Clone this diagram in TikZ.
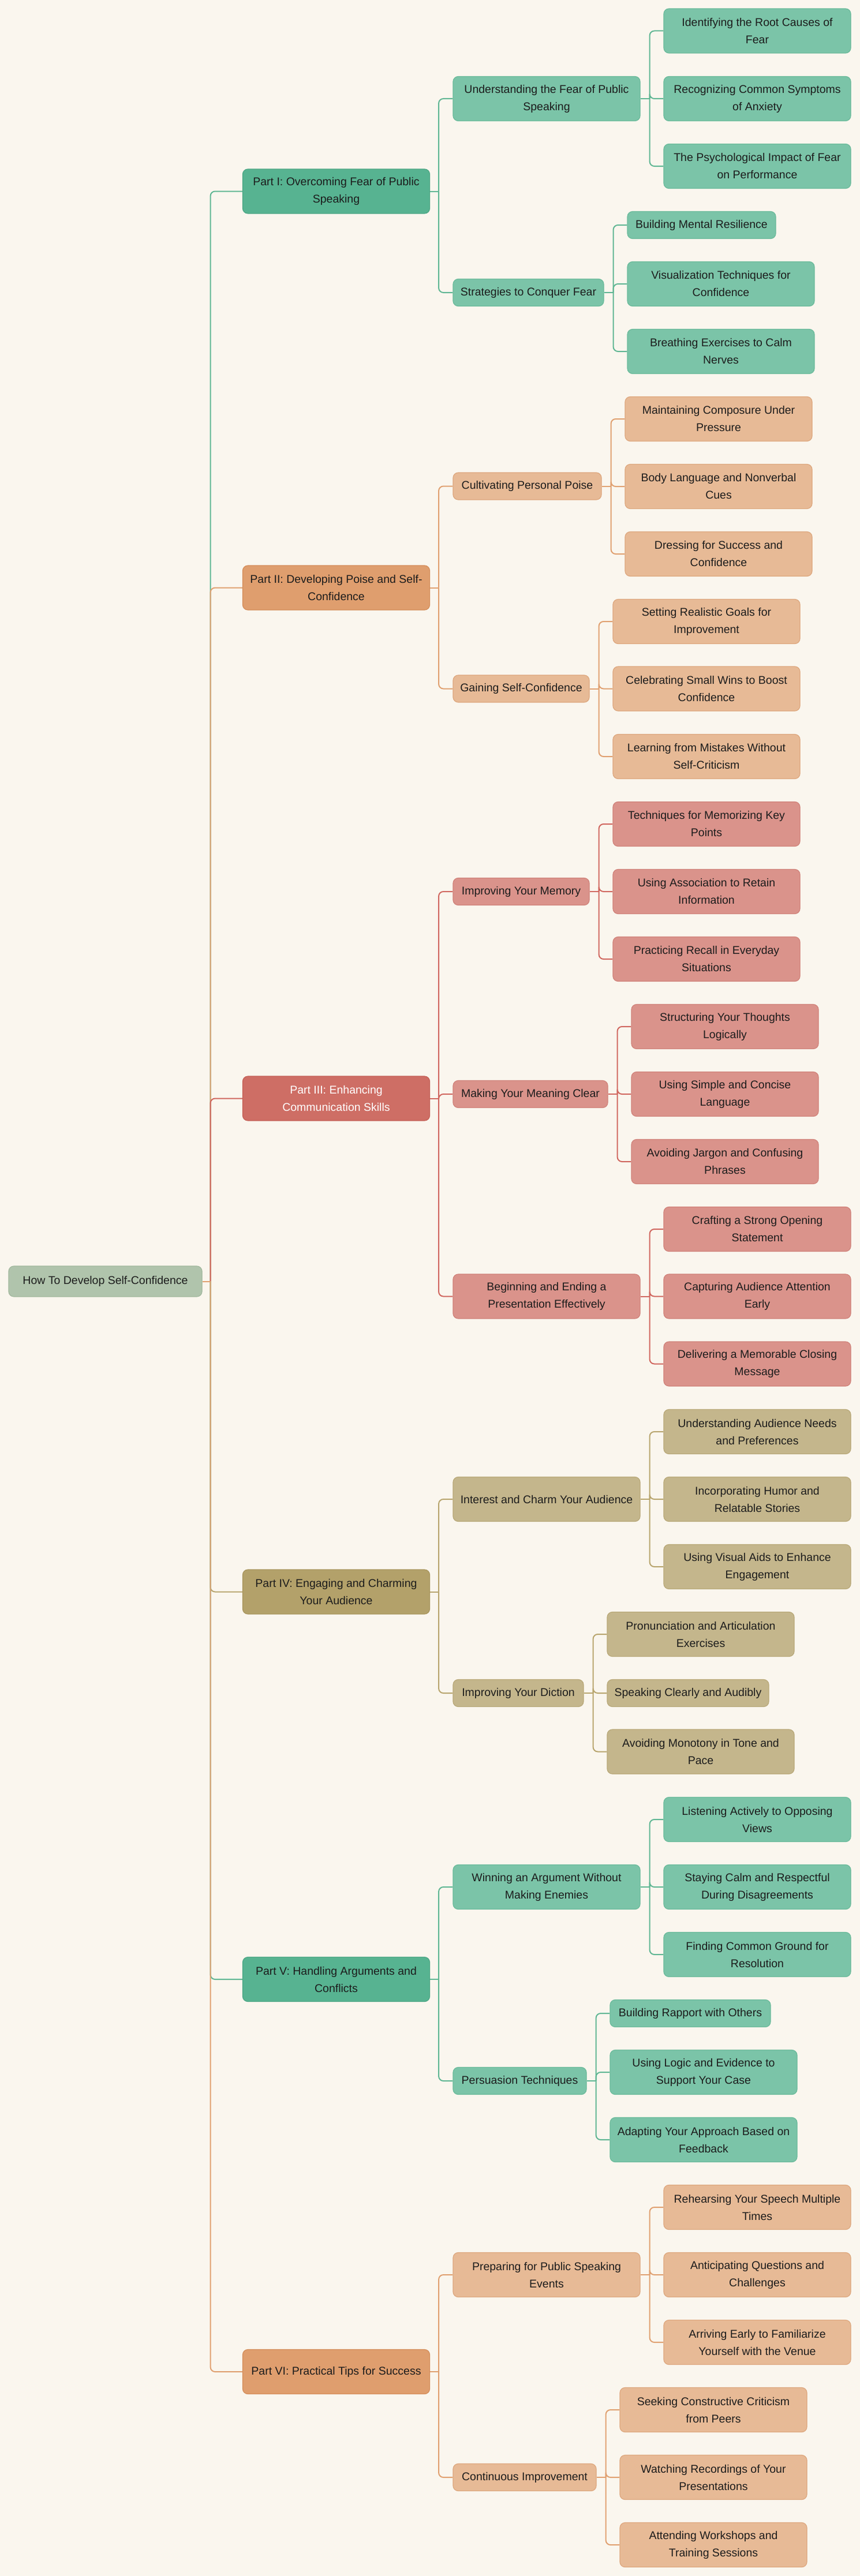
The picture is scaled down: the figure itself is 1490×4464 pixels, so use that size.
\documentclass[tikz,border=0pt]{standalone}
\usepackage{fontspec}
\setmainfont{Liberation Sans}
\usetikzlibrary{backgrounds}
\definecolor{bgc}{HTML}{FAF6EE}
\definecolor{txt}{HTML}{1C1C1C}
\definecolor{rootF}{HTML}{B0C4AC}\definecolor{rootD}{HTML}{A2B89E}
\definecolor{gP}{HTML}{57B391}\definecolor{gPd}{HTML}{4CA684}
\definecolor{gL}{HTML}{7BC4A8}\definecolor{gLd}{HTML}{6ABA9A}
\definecolor{gC}{HTML}{5FB693}
\definecolor{oP}{HTML}{DF9E6E}\definecolor{oPd}{HTML}{D48D5A}
\definecolor{oL}{HTML}{E7BA96}\definecolor{oLd}{HTML}{DDA77E}
\definecolor{oC}{HTML}{E0A070}
\definecolor{rP}{HTML}{CE6E65}\definecolor{rPd}{HTML}{C45F56}
\definecolor{rL}{HTML}{DA938B}\definecolor{rLd}{HTML}{D0827A}
\definecolor{rC}{HTML}{D0675F}
\definecolor{yP}{HTML}{B3A16A}\definecolor{yPd}{HTML}{A8955D}
\definecolor{yL}{HTML}{C4B68C}\definecolor{yLd}{HTML}{B8A878}
\definecolor{yC}{HTML}{B8A56E}
\tikzset{
  box/.style={draw, rounded corners=9pt, line width=1.2pt, inner sep=0pt, align=center,
    font=\fontsize{19.5}{30}\selectfont, text=txt},
  two/.style={minimum width=324pt, minimum height=77pt},
  one/.style={minimum height=47pt},
  rootbox/.style={box, fill=rootF, draw=rootD},
  gpart/.style={box, fill=gP, draw=gPd},
  gleaf/.style={box, fill=gL, draw=gLd},
  opart/.style={box, fill=oP, draw=oPd},
  oleaf/.style={box, fill=oL, draw=oLd},
  rpart/.style={box, fill=rP, draw=rPd, text=white},
  rleaf/.style={box, fill=rL, draw=rLd},
  ypart/.style={box, fill=yP, draw=yPd},
  yleaf/.style={box, fill=yL, draw=yLd},
  conn/.style={line width=2pt, rounded corners=8pt},
  gline/.style={conn, draw=gC},
  oline/.style={conn, draw=oC},
  rline/.style={conn, draw=rC},
  yline/.style={conn, draw=yC},
}
\begin{document}
\begin{tikzpicture}[x=1pt,y=-1pt]
\useasboundingbox (0,0) rectangle (1490,4464);
% root
\node[rootbox, minimum width=335pt, minimum height=53pt] (root) at (182.5,2220.5) {How To Develop Self-Confidence};
% parts
\node[gpart,two] (p1) at (582.5,331.5) {Part I: Overcoming Fear of Public\\Speaking};
\node[opart,two] (p2) at (582.5,1018.5) {Part II: Developing Poise and Self-\\Confidence};
\node[rpart,two] (p3) at (582.5,1903.5) {Part III: Enhancing\\Communication Skills};
\node[ypart,two] (p4) at (582.5,2758.5) {Part IV: Engaging and Charming\\Your Audience};
\node[gpart,two] (p5) at (582.5,3430) {Part V: Handling Arguments and\\Conflicts};
\node[opart,two] (p6) at (582.5,4110) {Part VI: Practical Tips for Success};
% level 2
\node[gleaf,two] (a1) at (947,171) {Understanding the Fear of Public\\Speaking};
\node[gleaf,one,minimum width=261pt] (a2) at (915.5,507) {Strategies to Conquer Fear};
\node[oleaf,one,minimum width=257pt] (b1) at (913.5,842.5) {Cultivating Personal Poise};
\node[oleaf,one,minimum width=236pt] (b2) at (903,1193.5) {Gaining Self-Confidence};
\node[rleaf,one,minimum width=236pt] (c1) at (903,1545) {Improving Your Memory};
\node[rleaf,one,minimum width=268pt] (c2) at (919,1896) {Making Your Meaning Clear};
\node[rleaf,two] (c3) at (947,2246.5) {Beginning and Ending a\\Presentation Effectively};
\node[yleaf,two] (d1) at (947,2598) {Interest and Charm Your Audience};
\node[yleaf,one,minimum width=226pt] (d2) at (898,2934) {Improving Your Diction};
\node[gleaf,two] (e1) at (947,3270) {Winning an Argument Without\\Making Enemies};
\node[gleaf,one,minimum width=231pt] (e2) at (900.5,3606) {Persuasion Techniques};
\node[oleaf,two] (f1) at (947,3942) {Preparing for Public Speaking\\Events};
\node[oleaf,one,minimum width=248pt] (f2) at (909,4293) {Continuous Improvement};
% leaves
\node[gleaf,two] (a11) at (1312,53.5) {Identifying the Root Causes of\\Fear};
\node[gleaf,two] (a12) at (1312,171) {Recognizing Common Symptoms\\of Anxiety};
\node[gleaf,two] (a13) at (1312,288) {The Psychological Impact of Fear\\on Performance};
\node[gleaf,one,minimum width=257pt] (a21) at (1215.5,390) {Building Mental Resilience};
\node[gleaf,two] (a22) at (1249,492) {Visualization Techniques for\\Confidence};
\node[gleaf,two] (a23) at (1249,609) {Breathing Exercises to Calm\\Nerves};
\node[oleaf,two] (b11) at (1245,726) {Maintaining Composure Under\\Pressure};
\node[oleaf,two] (b12) at (1245,843) {Body Language and Nonverbal\\Cues};
\node[oleaf,two] (b13) at (1245,960) {Dressing for Success and\\Confidence};
\node[oleaf,two] (b21) at (1224,1077) {Setting Realistic Goals for\\Improvement};
\node[oleaf,two] (b22) at (1224,1193.5) {Celebrating Small Wins to Boost\\Confidence};
\node[oleaf,two] (b23) at (1224,1311) {Learning from Mistakes Without\\Self-Criticism};
\node[rleaf,two] (c11) at (1224,1428) {Techniques for Memorizing Key\\Points};
\node[rleaf,two] (c12) at (1224,1545) {Using Association to Retain\\Information};
\node[rleaf,two] (c13) at (1224,1662) {Practicing Recall in Everyday\\Situations};
\node[rleaf,two] (c21) at (1256,1779) {Structuring Your Thoughts\\Logically};
\node[rleaf,two] (c22) at (1256,1896) {Using Simple and Concise\\Language};
\node[rleaf,two] (c23) at (1256,2013) {Avoiding Jargon and Confusing\\Phrases};
\node[rleaf,two] (c31) at (1312,2130) {Crafting a Strong Opening\\Statement};
\node[rleaf,two] (c32) at (1312,2246.5) {Capturing Audience Attention\\Early};
\node[rleaf,two] (c33) at (1312,2363.5) {Delivering a Memorable Closing\\Message};
\node[yleaf,two] (d11) at (1312,2481) {Understanding Audience Needs\\and Preferences};
\node[yleaf,two] (d12) at (1312,2598) {Incorporating Humor and\\Relatable Stories};
\node[yleaf,two] (d13) at (1312,2715) {Using Visual Aids to Enhance\\Engagement};
\node[yleaf,two] (d21) at (1214,2832) {Pronunciation and Articulation\\Exercises};
\node[yleaf,one,minimum width=280pt] (d22) at (1192,2934) {Speaking Clearly and Audibly};
\node[yleaf,two] (d23) at (1214,3035.5) {Avoiding Monotony in Tone and\\Pace};
\node[gleaf,two] (e11) at (1312,3153) {Listening Actively to Opposing\\Views};
\node[gleaf,two] (e12) at (1312,3270) {Staying Calm and Respectful\\During Disagreements};
\node[gleaf,two] (e13) at (1312,3387) {Finding Common Ground for\\Resolution};
\node[gleaf,one,minimum width=278pt] (e21) at (1196,3489) {Building Rapport with Others};
\node[gleaf,two] (e22) at (1219,3591) {Using Logic and Evidence to\\Support Your Case};
\node[gleaf,two] (e23) at (1219,3708) {Adapting Your Approach Based on\\Feedback};
\node[oleaf,two] (f11) at (1312,3825) {Rehearsing Your Speech Multiple\\Times};
\node[oleaf,two] (f12) at (1312,3942) {Anticipating Questions and\\Challenges};
\node[oleaf,two] (f13) at (1312,4059) {Arriving Early to Familiarize\\Yourself with the Venue};
\node[oleaf,two] (f21) at (1236,4176) {Seeking Constructive Criticism\\from Peers};
\node[oleaf,two] (f22) at (1236,4293) {Watching Recordings of Your\\Presentations};
\node[oleaf,two] (f23) at (1236,4410) {Attending Workshops and\\Training Sessions};
% connectors
\begin{scope}[on background layer]
\fill[bgc] (0,0) rectangle (1490,4464);
\coordinate (rb) at ([xshift=14pt]root.east);
\draw[gline] (rb) |- (p1.west);
\draw[oline] (rb) |- (p2.west);
\draw[rline] (rb) |- (p3.west);
\draw[yline] (rb) |- (p4.west);
\draw[gline] (rb) |- (p5.west);
\draw[oline] (rb) |- (p6.west);
\draw[oline] (root.east) -- (rb);
% part -> level 2
\foreach \p/\st/\kids in {p1/gline/{a1,a2}, p2/oline/{b1,b2}, p3/rline/{c1,c2,c3},
    p4/yline/{d1,d2}, p5/gline/{e1,e2}, p6/oline/{f1,f2}}{
  \coordinate (\p b) at ([xshift=15pt]\p.east);
  \draw[\st] (\p.east) -- (\p b);
  \foreach \k in \kids { \draw[\st] (\p b) |- (\k.west); }
}
% level 2 -> leaves
\foreach \q/\st in {a1/gline, a2/gline, b1/oline, b2/oline, c1/rline, c2/rline, c3/rline,
    d1/yline, d2/yline, e1/gline, e2/gline, f1/oline, f2/oline}{
  \coordinate (\q b) at ([xshift=16pt]\q.east);
  \draw[\st] (\q.east) -- (\q b);
  \foreach \n in {1,2,3} { \draw[\st] (\q b) |- (\q\n.west); }
}
\end{scope}
\end{tikzpicture}
\end{document}
